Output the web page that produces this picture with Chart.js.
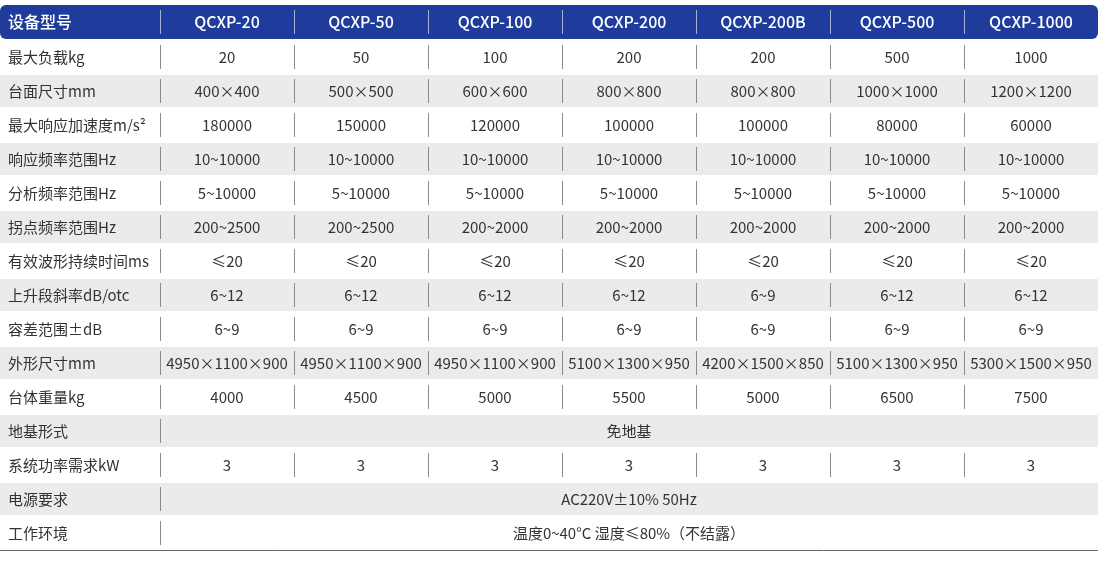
<!DOCTYPE html>
<html><head><meta charset="utf-8">
<script src="https://cdn.jsdelivr.net/npm/chart.js@4"></script>
<style>body{margin:0;background:#fff}canvas{display:block}</style>
</head><body>
<canvas id="c" width="1100" height="587"></canvas>
<script>
const headerLabel = '设备型号';
const models = ['QCXP-20','QCXP-50','QCXP-100','QCXP-200','QCXP-200B','QCXP-500','QCXP-1000'];
const rowLabels = ['最大负载kg','台面尺寸mm','最大响应加速度m/s²','响应频率范围Hz','分析频率范围Hz','拐点频率范围Hz','有效波形持续时间ms','上升段斜率dB/otc','容差范围±dB','外形尺寸mm','台体重量kg','地基形式','系统功率需求kW','电源要求','工作环境'];
const maxLoad = ['20','50','100','200','200','500','1000'];
const tableSize = ['400×400','500×500','600×600','800×800','800×800','1000×1000','1200×1200'];
const maxAccel = ['180000','150000','120000','100000','100000','80000','60000'];
const respFreq = ['10~10000','10~10000','10~10000','10~10000','10~10000','10~10000','10~10000'];
const anaFreq = ['5~10000','5~10000','5~10000','5~10000','5~10000','5~10000','5~10000'];
const kneeFreq = ['200~2500','200~2500','200~2000','200~2000','200~2000','200~2000','200~2000'];
const duration = ['≤20','≤20','≤20','≤20','≤20','≤20','≤20'];
const slope = ['6~12','6~12','6~12','6~12','6~9','6~12','6~12'];
const tolerance = ['6~9','6~9','6~9','6~9','6~9','6~9','6~9'];
const dims = ['4950×1100×900','4950×1100×900','4950×1100×900','5100×1300×950','4200×1500×850','5100×1300×950','5300×1500×950'];
const weight = ['4000','4500','5000','5500','5000','6500','7500'];
const foundation = ['免地基'];
const power = ['3','3','3','3','3','3','3'];
const supply = ['AC220V±10% 50Hz'];
const environment = ['温度0~40°C 湿度≤80%（不结露）'];
const rowValues = [maxLoad,tableSize,maxAccel,respFreq,anaFreq,kneeFreq,duration,slope,tolerance,dims,weight,foundation,power,supply,environment];

const FONT = '"Noto Sans CJK SC","Noto Sans",sans-serif';
const firstColSpan = 160/134;

const tablePlugin = {
  id: 'table',
  beforeDatasetsDraw(chart) {
    const ctx = chart.ctx, xs = chart.scales.x, ys = chart.scales.y;
    const L = xs.getPixelForValue(-firstColSpan), R = xs.getPixelForValue(models.length);
    const nRows = rowLabels.length + 1;
    ctx.save();
    // header
    const hy0 = ys.getPixelForValue(0), hy1 = ys.getPixelForValue(1);
    ctx.fillStyle = '#1f3c9c';
    ctx.beginPath(); ctx.roundRect(L, hy0, R - L, hy1 - hy0, 6); ctx.fill();
    ctx.textBaseline = 'middle';
    ctx.font = '500 16px ' + FONT;
    ctx.fillStyle = '#fff';
    const hym = (hy0 + hy1) / 2;
    ctx.textAlign = 'left'; ctx.fillText(headerLabel, L + 8, hym);
    ctx.textAlign = 'center';
    models.forEach((m, i) => ctx.fillText(m, xs.getPixelForValue(i + 0.5), hym));
    ctx.strokeStyle = 'rgba(255,255,255,0.6)'; ctx.lineWidth = 1;
    for (let i = 0; i < models.length; i++) {
      const x = Math.round(xs.getPixelForValue(i)) + 0.5;
      ctx.beginPath(); ctx.moveTo(x, hy0 + 5); ctx.lineTo(x, hy1 - 5); ctx.stroke();
    }
    // rows
    rowLabels.forEach((lab, r) => {
      const y0 = ys.getPixelForValue(r + 1) + 2, y1 = ys.getPixelForValue(r + 2);
      const ym = (y0 + y1) / 2;
      if (r % 2 === 1) { ctx.fillStyle = '#ebebeb'; ctx.fillRect(L, y0, R - L, y1 - y0); }
      ctx.fillStyle = '#333';
      ctx.font = '15px ' + FONT;
      ctx.textAlign = 'left'; ctx.fillText(lab, L + 8, ym);
      ctx.textAlign = 'center';
      const vals = rowValues[r];
      ctx.strokeStyle = '#8a8a8a'; ctx.lineWidth = 1;
      if (vals.length === 1) {
        ctx.fillText(vals[0], xs.getPixelForValue(models.length / 2), ym);
        const x = Math.round(xs.getPixelForValue(0)) + 0.5;
        ctx.beginPath(); ctx.moveTo(x, y0 + 4); ctx.lineTo(x, y1 - 4); ctx.stroke();
      } else {
        vals.forEach((v, i) => ctx.fillText(v, xs.getPixelForValue(i + 0.5), ym));
        for (let i = 0; i < models.length; i++) {
          const x = Math.round(xs.getPixelForValue(i)) + 0.5;
          ctx.beginPath(); ctx.moveTo(x, y0 + 4); ctx.lineTo(x, y1 - 4); ctx.stroke();
        }
      }
    });
    const yb = ys.getPixelForValue(nRows) + 1.5;
    ctx.strokeStyle = '#666'; ctx.beginPath(); ctx.moveTo(L, yb); ctx.lineTo(R, yb); ctx.stroke();
    ctx.restore();
  }
};

new Chart(document.getElementById('c'), {
  type: 'scatter',
  data: { datasets: [{ data: [] }] },
  options: {
    responsive: false, animation: false, devicePixelRatio: 1,
    layout: { padding: { left: 0, right: 2, top: 5, bottom: 38 } },
    plugins: { legend: { display: false }, tooltip: { enabled: false } },
    scales: {
      x: { type: 'linear', min: -firstColSpan, max: models.length, display: false },
      y: { type: 'linear', min: 0, max: rowLabels.length + 1, reverse: true, display: false }
    }
  },
  plugins: [tablePlugin]
});
</script>
</body></html>
